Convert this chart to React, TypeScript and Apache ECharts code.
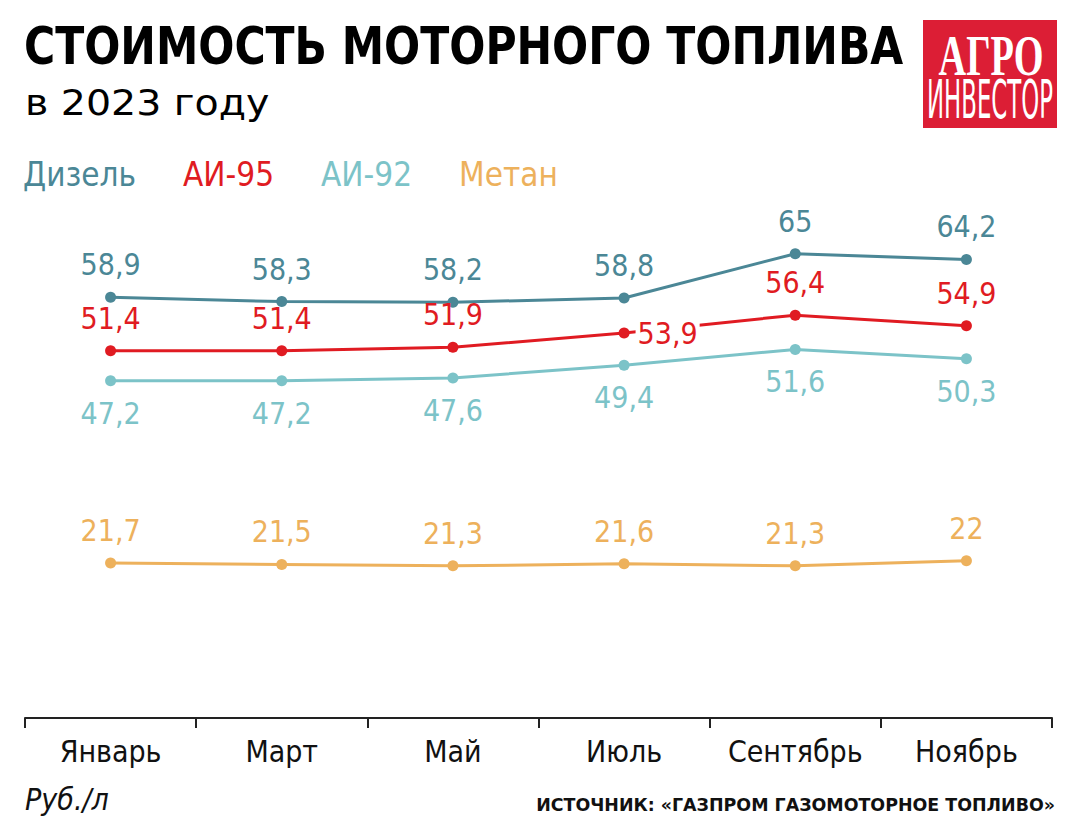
import React, { useEffect, useRef } from "react";
import * as echarts from "echarts";

const months = ["Январь", "Март", "Май", "Июль", "Сентябрь", "Ноябрь"];
const diesel = [58.9, 58.3, 58.2, 58.8, 65, 64.2];
const ai95 = [51.4, 51.4, 51.9, 53.9, 56.4, 54.9];
const ai92 = [47.2, 47.2, 47.6, 49.4, 51.6, 50.3];
const metan = [21.7, 21.5, 21.3, 21.6, 21.3, 22];
const seriesNames = ["Дизель", "АИ-95", "АИ-92", "Метан"];
const colors = ["#4b8796", "#e01b22", "#7cc3c8", "#edb15c"];

const FONT = "'Liberation Sans Narrow', 'DejaVu Sans Condensed', 'Roboto', sans-serif";
const fmt = (p: any) => String(p.value).replace(".", ",");

export default function App() {
  const ref = useRef<HTMLDivElement>(null);
  useEffect(() => {
    if (!ref.current) return;
    const chart = echarts.init(ref.current, null, { renderer: "svg" });
    const mkLabel = (color: string, position: string) => ({
      show: true,
      position,
      distance: 12,
      color,
      fontSize: 30,
      fontFamily: FONT,
      formatter: fmt,
    });
    const mkSeries = (name: string, data: number[], color: string, position: string) => ({
      name,
      type: "line",
      data,
      symbol: "circle",
      symbolSize: 11,
      showSymbol: true,
      lineStyle: { color, width: 3 },
      itemStyle: { color },
      label: mkLabel(color, position),
    });
    const ai95Series: any = mkSeries(seriesNames[1], ai95, colors[1], "top");
    ai95Series.data = ai95.map((v, i) =>
      i === 3
        ? {
            value: v,
            label: {
              position: "right",
              distance: 6,
              backgroundColor: "#ffffff",
              padding: [0, 2, 0, 2],
            },
          }
        : v
    );
    chart.setOption({
      animation: false,
      backgroundColor: "#ffffff",
      textStyle: { fontFamily: FONT },
      grid: { left: 25, right: 24, top: 218, bottom: 120, containLabel: false },
      legend: {
        left: 13,
        top: 153,
        icon: "none",
        itemWidth: 0,
        itemHeight: 0,
        itemGap: 42,
        selectedMode: false,
        data: seriesNames.map((n, i) => ({
          name: n,
          textStyle: { color: colors[i], fontSize: 33, fontFamily: FONT },
        })),
      },
      xAxis: {
        type: "category",
        data: months,
        boundaryGap: true,
        offset: 5,
        axisLine: { show: true, lineStyle: { color: "#222222", width: 2 } },
        axisTick: { show: true, length: 10, lineStyle: { color: "#222222", width: 2 } },
        axisLabel: { color: "#111111", fontSize: 30, fontFamily: FONT, margin: 13, interval: 0 },
      },
      yAxis: {
        type: "value",
        min: 0,
        max: 70,
        show: false,
        splitLine: { show: false },
      },
      series: [
        mkSeries(seriesNames[0], diesel, colors[0], "top"),
        ai95Series,
        mkSeries(seriesNames[2], ai92, colors[2], "bottom"),
        mkSeries(seriesNames[3], metan, colors[3], "top"),
      ],
      graphic: [
        {
          type: "text",
          x: 24,
          y: 21,
          scaleX: 0.927,
          style: {
            text: "СТОИМОСТЬ МОТОРНОГО ТОПЛИВА",
            fontSize: 51,
            fontWeight: "bold",
            fontFamily: FONT,
            fill: "#000000",
            align: "left",
            verticalAlign: "top",
          },
        },
        {
          type: "text",
          x: 25,
          y: 84,
          scaleX: 1.22,
          style: {
            text: "в 2023 году",
            fontSize: 36,
            fontFamily: FONT,
            fill: "#000000",
            align: "left",
            verticalAlign: "top",
          },
        },
        {
          type: "rect",
          shape: { x: 923, y: 20, width: 134, height: 108 },
          style: { fill: "#dc1e35" },
        },
        {
          type: "text",
          x: 991,
          y: 56,
          scaleX: 0.66,
          style: {
            text: "АГРО",
            align: "center",
            verticalAlign: "middle",
            fontSize: 58,
            fontWeight: "bold",
            fontFamily: "'Liberation Serif', 'DejaVu Serif', serif",
            fill: "#ffffff",
          },
        },
        {
          type: "text",
          x: 990,
          y: 99,
          scaleX: 0.47,
          style: {
            text: "ИНВЕСТОР",
            align: "center",
            verticalAlign: "middle",
            fontSize: 54,
            fontFamily: FONT,
            fill: "#ffffff",
          },
        },
        {
          type: "text",
          x: 25,
          y: 784,
          style: {
            text: "Руб./л",
            fontSize: 30,
            fontStyle: "italic",
            fontFamily: FONT,
            fill: "#111111",
            align: "left",
            verticalAlign: "top",
          },
        },
        {
          type: "text",
          x: 1055,
          y: 796,
          scaleX: 1.14,
          style: {
            text: "ИСТОЧНИК: «ГАЗПРОМ ГАЗОМОТОРНОЕ ТОПЛИВО»",
            fontSize: 17,
            fontWeight: "bold",
            fontFamily: FONT,
            fill: "#111111",
            align: "right",
            verticalAlign: "top",
          },
        },
      ],
    });
    return () => chart.dispose();
  }, []);
  return (
    <div
      ref={ref}
      style={{ position: "fixed", left: 0, top: 0, width: 1076, height: 838 }}
    />
  );
}
